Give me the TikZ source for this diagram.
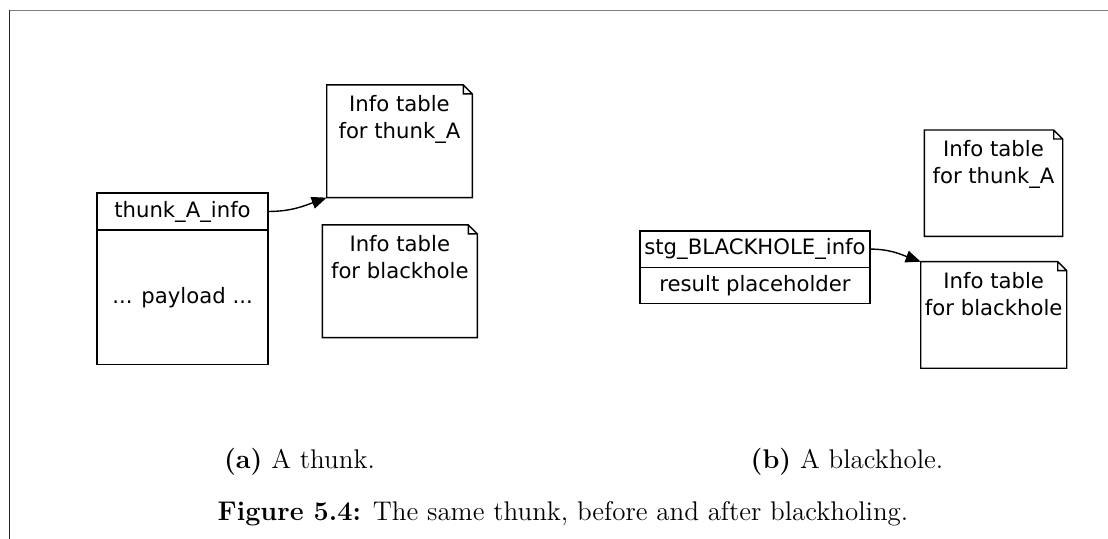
\documentclass[tikz,border=0pt]{standalone}
\usepackage{fontspec}
\usepackage{tikz}
\usetikzlibrary{positioning,arrows.meta}
\newfontfamily\dotfont{DejaVu Sans}
\newcommand{\pxlen}[0]{0.5pt}
\newcommand{\foldSize}[0]{4.5pt}
\newcommand{\dotSize}[0]{\fontsize{10.6}{13.5}\selectfont}
\newcommand{\captionSize}[0]{\fontsize{13.5}{16}\selectfont}
\newcommand{\noteFrame}[1]{%
  \draw[line width=0.7pt] (#1.south west) -- (#1.south east)
    -- ([yshift=-\foldSize]#1.north east) -- ([xshift=-\foldSize]#1.north east)
    -- (#1.north west) -- cycle
    ([xshift=-\foldSize]#1.north east) |- ([yshift=-\foldSize]#1.north east);}

\begin{document}
\begin{tikzpicture}[x=\pxlen, y=-\pxlen]
  \tikzset{
    record/.style={draw, line width=0.7pt, inner sep=0pt, outer sep=0pt, font=\dotfont\dotSize},
    note/.style={rectangle, inner sep=0pt, outer sep=0pt},
    notetext/.style={align=center, inner sep=0pt, font=\dotfont\dotSize},
    pointer/.style={-{Triangle[length=7.5pt,width=6pt]}, line width=0.7pt},
    caption/.style={anchor=base, inner sep=0pt, font=\captionSize}
  }
  \useasboundingbox (0,0) rectangle (1108,539);
  % frame of the page
  \coordinate (frame-tl) at (9,10.5);
  \draw[gray, line width=0.5pt] (frame-tl) -- (1108,10.5);
  \draw[black!85, line width=0.5pt] (frame-tl) -- (9,539);

  % (a) the thunk
  \node[record, minimum width=171*\pxlen, minimum height=37*\pxlen] (info-a) at (182.5,211.5) {thunk\_A\_info};
  \node[record, minimum width=171*\pxlen, minimum height=134.5*\pxlen, below=0pt of info-a] (payload-a) {... payload ...};
  \node[note, minimum width=145.6*\pxlen, minimum height=112.7*\pxlen] (thunk-a) at (399.5,141.3) {};
  \node[notetext, below=5pt of thunk-a.north] {Info table\\for thunk\_A};
  \node[note, minimum width=155*\pxlen, minimum height=112.7*\pxlen] (hole-a) at (399.8,281.3) {};
  \node[notetext, below=5pt of hole-a.north] {Info table\\for blackhole};
  \noteFrame{thunk-a}
  \noteFrame{hole-a}
  \draw[pointer] (info-a.east) to[out=0, in=200] (thunk-a.south west);

  % (b) the blackhole
  \node[record, minimum width=230*\pxlen, minimum height=36.3*\pxlen] (info-b) at (755,249.1) {stg\_BLACKHOLE\_info};
  \node[record, minimum width=230*\pxlen, minimum height=36.4*\pxlen, below=0pt of info-b] (result-b) {result placeholder};
  \node[note, minimum width=138.4*\pxlen, minimum height=106.3*\pxlen] (thunk-b) at (993.5,183.2) {};
  \node[notetext, below=5pt of thunk-b.north] {Info table\\for thunk\_A};
  \node[note, minimum width=146*\pxlen, minimum height=106.6*\pxlen] (hole-b) at (993.7,315) {};
  \node[notetext, below=5pt of hole-b.north] {Info table\\for blackhole};
  \noteFrame{thunk-b}
  \noteFrame{hole-b}
  \draw[pointer] (info-b.east) to[out=0, in=160] (hole-b.north west);

  \node[caption] (cap-a) at (299.5,468) {\textbf{(a)} A thunk.};
  \node[caption] (cap-b) at (847,468) {\textbf{(b)} A blackhole.};
  \node[caption] (cap-fig) at (563,520.7) {\textbf{Figure 5.4:} The same thunk, before and after blackholing.};
\end{tikzpicture}
\end{document}
